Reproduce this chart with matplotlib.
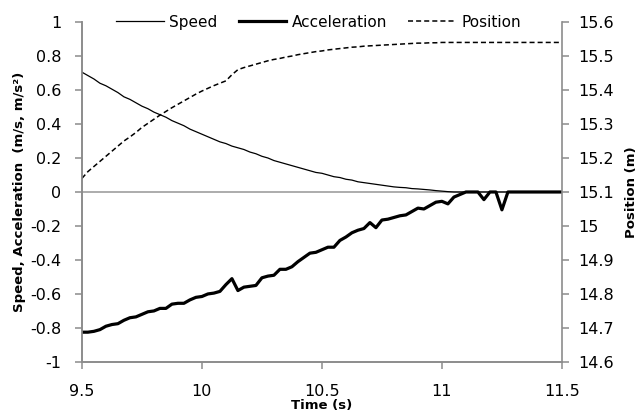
import matplotlib
matplotlib.use("Agg")
import matplotlib.pyplot as plt
from matplotlib.lines import Line2D
from matplotlib.ticker import FuncFormatter

plt.rcParams["font.family"] = ["DejaVu Sans"]

# time samples (s)
time_s = [9.500, 9.525, 9.550, 9.575, 9.600, 9.625, 9.650, 9.675, 9.700, 9.725,
          9.750, 9.775, 9.800, 9.825, 9.850, 9.875, 9.900, 9.925, 9.950, 9.975,
          10.000, 10.025, 10.050, 10.075, 10.100, 10.125, 10.150, 10.175, 10.200, 10.225,
          10.250, 10.275, 10.300, 10.325, 10.350, 10.375, 10.400, 10.425, 10.450, 10.475,
          10.500, 10.525, 10.550, 10.575, 10.600, 10.625, 10.650, 10.675, 10.700, 10.725,
          10.750, 10.775, 10.800, 10.825, 10.850, 10.875, 10.900, 10.925, 10.950, 10.975,
          11.000, 11.025, 11.050, 11.075, 11.100, 11.125, 11.150, 11.175, 11.200, 11.225,
          11.250, 11.275, 11.300, 11.325, 11.350, 11.375, 11.400, 11.425, 11.450, 11.475,
          11.500]

# speed (m/s)
speed = [0.705, 0.685, 0.665, 0.640, 0.625, 0.605, 0.585, 0.560, 0.545, 0.525,
         0.505, 0.490, 0.470, 0.455, 0.440, 0.420, 0.405, 0.390, 0.370, 0.355,
         0.340, 0.325, 0.310, 0.295, 0.285, 0.270, 0.260, 0.250, 0.235, 0.225,
         0.210, 0.200, 0.185, 0.175, 0.165, 0.155, 0.145, 0.135, 0.125, 0.115,
         0.110, 0.100, 0.090, 0.085, 0.075, 0.070, 0.060, 0.055, 0.050, 0.045,
         0.040, 0.035, 0.030, 0.027, 0.025, 0.020, 0.018, 0.015, 0.012, 0.008,
         0.005, 0.002, 0.000, 0.000, 0.000, 0.000, 0.000, 0.000, 0.000, 0.000,
         0.000, 0.000, 0.000, 0.000, 0.000, 0.000, 0.000, 0.000, 0.000, 0.000,
         0.000]

# acceleration (m/s^2)
accel = [-0.825, -0.825, -0.820, -0.810, -0.790, -0.780, -0.775, -0.755, -0.740, -0.735,
         -0.720, -0.705, -0.700, -0.685, -0.685, -0.660, -0.655, -0.655, -0.635, -0.620,
         -0.615, -0.600, -0.595, -0.585, -0.545, -0.510, -0.580, -0.560, -0.555, -0.550,
         -0.505, -0.495, -0.490, -0.455, -0.455, -0.440, -0.410, -0.385, -0.360, -0.355,
         -0.340, -0.325, -0.325, -0.285, -0.265, -0.240, -0.225, -0.215, -0.180, -0.210,
         -0.165, -0.160, -0.150, -0.140, -0.135, -0.115, -0.095, -0.100, -0.080, -0.060,
         -0.055, -0.070, -0.030, -0.015, 0.000, 0.000, 0.000, -0.045, 0.000, 0.000,
         -0.105, 0.000, 0.000, 0.000, 0.000, 0.000, 0.000, 0.000, 0.000, 0.000,
         0.000]

# position (m)
position = [15.140, 15.160, 15.175, 15.190, 15.205, 15.220, 15.235, 15.250, 15.262, 15.275,
            15.290, 15.302, 15.314, 15.326, 15.337, 15.348, 15.358, 15.368, 15.378, 15.388,
            15.397, 15.405, 15.413, 15.420, 15.427, 15.445, 15.460, 15.466, 15.471, 15.476,
            15.481, 15.486, 15.490, 15.493, 15.497, 15.500, 15.504, 15.507, 15.510, 15.513,
            15.515, 15.518, 15.520, 15.522, 15.524, 15.526, 15.527, 15.529, 15.530, 15.531,
            15.532, 15.533, 15.534, 15.535, 15.536, 15.537, 15.538, 15.538, 15.539, 15.539,
            15.540, 15.540, 15.540, 15.540, 15.540, 15.540, 15.540, 15.540, 15.540, 15.540,
            15.540, 15.540, 15.540, 15.540, 15.540, 15.540, 15.540, 15.540, 15.540, 15.540,
            15.540]

x_ticks = [9.5, 10, 10.5, 11, 11.5]
left_ticks = [-1, -0.8, -0.6, -0.4, -0.2, 0, 0.2, 0.4, 0.6, 0.8, 1]
right_ticks = [14.6, 14.7, 14.8, 14.9, 15.0, 15.1, 15.2, 15.3, 15.4, 15.5, 15.6]

GRAY = "#8c8c8c"
DASH = (0, (3.3, 2.0))
fmt = FuncFormatter(lambda v, pos: f"{v:g}")

fig = plt.figure(figsize=(6.4, 4.16), dpi=100)
ax = fig.add_axes([0.128, 0.13, 0.75, 0.817])
ax2 = ax.twinx()

ax.axhline(0, color="#a6a6a6", lw=1.3, zorder=1)
ax.plot(time_s, speed, color="black", lw=0.9, zorder=3)
ax.plot(time_s, accel, color="black", lw=2.3, zorder=3)
ax2.plot(time_s, position, color="black", lw=1.1, linestyle=DASH)

ax.set_xlim(9.5, 11.5)
ax.set_ylim(-1, 1)
ax2.set_ylim(14.6, 15.6)
ax.set_xticks(x_ticks)
ax.set_yticks(left_ticks)
ax2.set_yticks(right_ticks)
for a in (ax, ax2):
    a.xaxis.set_major_formatter(fmt)
    a.yaxis.set_major_formatter(fmt)
    for s in a.spines.values():
        s.set_color(GRAY)
        s.set_linewidth(1.2)
    a.spines["top"].set_visible(False)
    a.tick_params(colors=GRAY, labelcolor="black", labelsize=11.5, length=5, width=1.1)
ax.spines["right"].set_visible(False)
ax.tick_params(axis="y", pad=10)
ax.tick_params(axis="x", pad=11)
ax2.tick_params(axis="y", pad=7)

ax.set_xlabel("Time (s)", fontsize=9.5, fontweight="bold")
ax.set_ylabel("Speed, Acceleration  (m/s, m/s²)", fontsize=9.5, fontweight="bold")
ax2.set_ylabel("Position (m)", fontsize=9.5, fontweight="bold")
ax.xaxis.set_label_coords(0.5, -0.109)
ax.yaxis.set_label_coords(-0.117, 0.5)
ax2.yaxis.set_label_coords(1.132, 0.5)

handles = [Line2D([], [], color="black", lw=0.9),
           Line2D([], [], color="black", lw=2.3),
           Line2D([], [], color="black", lw=1.1, linestyle=DASH)]
ax.legend(handles, ["Speed", "Acceleration", "Position"], loc="center",
          bbox_to_anchor=(0.493, 1.0), ncol=3, frameon=False, fontsize=11,
          handlelength=3.1, handletextpad=0.35, columnspacing=1.4)

fig.savefig("out.png", dpi=100)
